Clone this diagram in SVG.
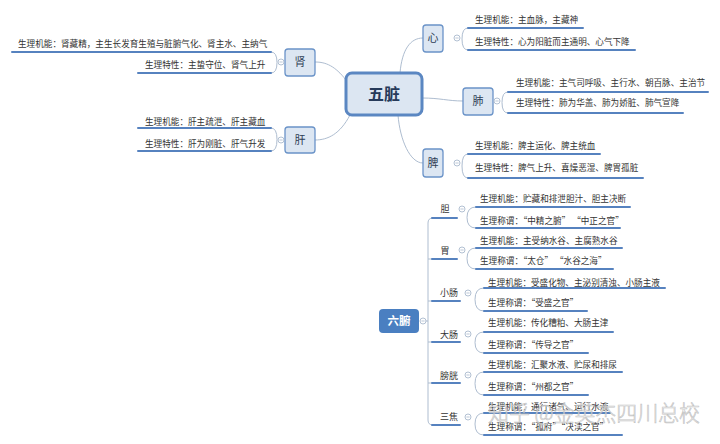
<svg xmlns="http://www.w3.org/2000/svg" width="720" height="444" viewBox="0 0 720 444">
<style>
.bg{fill:#ffffff}
.conn{fill:none;stroke:#aebdd0;stroke-width:1}
.ul{fill:none;stroke:#5682bf;stroke-width:2;stroke-linecap:round}
.box{fill:#dce6f2;stroke:#6a93c8;stroke-width:1.3}
.root{fill:#dce6f2;stroke:#5b87c2;stroke-width:3}
.col{fill:#ffffff;stroke:#a9b9cd;stroke-width:0.9}
.minus{stroke:#a9b9cd;stroke-width:0.8}
.leaf{font-family:"Noto Sans CJK SC","Noto Sans",sans-serif;font-size:8.6px;fill:#333333}
.lbl{font-family:"Noto Sans CJK SC","Noto Sans",sans-serif;font-size:11px;fill:#2f3e55;text-anchor:middle}
.sub{font-family:"Noto Sans CJK SC","Noto Sans",sans-serif;font-size:9px;fill:#333333;text-anchor:middle}
</style>
<defs>
  <g id="collapse">
    <circle class="col" cx="0" cy="0" r="3"/>
    <line class="minus" x1="-1.6" y1="0" x2="1.6" y2="0"/>
  </g>
</defs>
<rect class="bg" x="0" y="0" width="720" height="444"/>
<g id="connectors">
  <path class="conn" d="M400,73 C402,50 410,38 423,38"/>
  <path class="conn" d="M422,98 C440,98 448,101 463,101"/>
  <path class="conn" d="M398,115 C400,140 410,163 423,163"/>
  <path class="conn" d="M346,80 C335,66 326,62 315,62"/>
  <path class="conn" d="M350,115 C340,134 328,140 315,140"/>
  <path class="conn" d="M468,28 Q462,28 462,39 Q462,50 468,50"/>
  <path class="conn" d="M508,92 Q502,92 502,102.5 Q502,113 508,113"/>
  <path class="conn" d="M468,154 Q462,154 462,166 Q462,178 468,178"/>
  <path class="conn" d="M271,52 Q277,52 277,62.5 Q277,73 271,73"/>
  <path class="conn" d="M271,128 Q277,128 277,139.5 Q277,151 271,151"/>
  <path class="conn" d="M426,321 L428,321"/>
  <path class="conn" d="M433,218 Q428,218 428,223 L428,420 Q428,425 433,425"/>
  <path class="conn" d="M428,259 L432,259 M428,301 L432,301 M428,342 L432,342 M428,383 L432,383"/>
  <path class="conn" d="M476,207 Q467,207 467,217.5 Q467,228 476,228"/>
  <path class="conn" d="M476,248 Q467,248 467,258.5 Q467,269 476,269"/>
  <path class="conn" d="M484,288 Q475,288 475,299.5 Q475,311 484,311"/>
  <path class="conn" d="M484,332 Q475,332 475,342.5 Q475,353 484,353"/>
  <path class="conn" d="M484,372 Q475,372 475,383.5 Q475,395 484,395"/>
  <path class="conn" d="M484,413 Q475,413 475,424 Q475,435 484,435"/>
</g>
<g id="root-wuzang">
  <rect class="root" x="346" y="73" width="76" height="42" rx="6"/>
  <text x="384" y="100" font-family="'Noto Sans CJK SC','Noto Sans',sans-serif" font-size="16" font-weight="bold" fill="#263a5a" text-anchor="middle">五脏</text>
</g>
<g id="node-xin">
  <rect class="box" x="423" y="25" width="20" height="27" rx="3"/>
  <text class="lbl" x="433" y="42">心</text>
  <use href="#collapse" x="457" y="38"/>
  <path class="ul" d="M468,28 L583,28 M468,50 L635,50"/>
  <text class="leaf" x="475" y="23">生理机能：主血脉，主藏神</text>
  <text class="leaf" x="475" y="45">生理特性：心为阳脏而主通明、心气下降</text>
</g>
<g id="node-fei">
  <rect class="box" x="463" y="88" width="30" height="27" rx="3"/>
  <text class="lbl" x="478" y="105">肺</text>
  <use href="#collapse" x="497" y="101"/>
  <path class="ul" d="M508,92 L708,92 M508,113 L683,113"/>
  <text class="leaf" x="516" y="86">生理机能：主气司呼吸、主行水、朝百脉、主治节</text>
  <text class="leaf" x="516" y="106">生理特性：肺为华盖、肺为娇脏、肺气宣降</text>
</g>
<g id="node-pi">
  <rect class="box" x="423" y="149" width="20" height="28" rx="3"/>
  <text class="lbl" x="433" y="167">脾</text>
  <use href="#collapse" x="457" y="163"/>
  <path class="ul" d="M468,154 L600,154 M468,178 L643,178"/>
  <text class="leaf" x="475" y="149">生理机能：脾主运化、脾主统血</text>
  <text class="leaf" x="475" y="171">生理特性：脾气上升、喜燥恶湿、脾胃孤脏</text>
</g>
<g id="node-shen">
  <rect class="box" x="285" y="49" width="30" height="27" rx="3"/>
  <text class="lbl" x="300" y="66">肾</text>
  <use href="#collapse" x="281" y="62"/>
  <path class="ul" d="M12,52 L271,52 M138,73 L271,73"/>
  <text class="leaf" x="18" y="47">生理机能：肾藏精，主生长发育生殖与脏腑气化、肾主水、主纳气</text>
  <text class="leaf" x="145" y="68">生理特性：主蛰守位、肾气上升</text>
</g>
<g id="node-gan">
  <rect class="box" x="285" y="127" width="30" height="26" rx="3"/>
  <text class="lbl" x="300" y="144">肝</text>
  <use href="#collapse" x="281" y="140"/>
  <path class="ul" d="M138,128 L271,128 M138,151 L271,151"/>
  <text class="leaf" x="145" y="125">生理机能：肝主疏泄、肝主藏血</text>
  <text class="leaf" x="145" y="147">生理特性：肝为刚脏、肝气升发</text>
</g>
<g id="root-liufu">
  <rect x="379" y="309" width="40" height="24" rx="4" fill="#4a7fc1"/>
  <text x="399" y="325" font-family="'Noto Sans CJK SC','Noto Sans',sans-serif" font-size="11.5" font-weight="bold" fill="#ffffff" text-anchor="middle">六腑</text>
  <use href="#collapse" x="423" y="321"/>
</g>
<g id="node-dan">
  <text class="sub" x="445" y="212">胆</text>
  <path class="ul" d="M432,218 L457,218"/>
  <use href="#collapse" x="462" y="209"/>
  <path class="ul" d="M476,207 L630,207 M476,228 L620,228"/>
  <text class="leaf" x="480" y="202">生理机能：贮藏和排泄胆汁、胆主决断</text>
  <text class="leaf" x="480" y="224">生理称谓：“中精之腑” “中正之官”</text>
</g>
<g id="node-wei">
  <text class="sub" x="445" y="254">胃</text>
  <path class="ul" d="M432,259 L457,259"/>
  <use href="#collapse" x="462" y="250"/>
  <path class="ul" d="M476,248 L622,248 M476,269 L613,269"/>
  <text class="leaf" x="480" y="244">生理机能：主受纳水谷、主腐熟水谷</text>
  <text class="leaf" x="480" y="264">生理称谓：“太仓” “水谷之海”</text>
</g>
<g id="node-xiaochang">
  <text class="sub" x="449" y="296">小肠</text>
  <path class="ul" d="M432,301 L460,301"/>
  <use href="#collapse" x="468" y="293"/>
  <path class="ul" d="M484,288 L665,288 M484,311 L587,311"/>
  <text class="leaf" x="488" y="286">生理机能：受盛化物、主泌别清浊、小肠主液</text>
  <text class="leaf" x="488" y="306">生理称谓：“受盛之官”</text>
</g>
<g id="node-dachang">
  <text class="sub" x="449" y="338">大肠</text>
  <path class="ul" d="M432,342 L460,342"/>
  <use href="#collapse" x="468" y="334"/>
  <path class="ul" d="M484,332 L613,332 M484,353 L588,353"/>
  <text class="leaf" x="488" y="326">生理机能：传化糟粕、大肠主津</text>
  <text class="leaf" x="488" y="348">生理称谓：“传导之官”</text>
</g>
<g id="node-pangguang">
  <text class="sub" x="449" y="379">膀胱</text>
  <path class="ul" d="M432,383 L460,383"/>
  <use href="#collapse" x="468" y="375"/>
  <path class="ul" d="M484,372 L622,372 M484,395 L588,395"/>
  <text class="leaf" x="488" y="368">生理机能：汇聚水液、贮尿和排尿</text>
  <text class="leaf" x="488" y="390">生理称谓：“州都之官”</text>
</g>
<g id="node-sanjiao">
  <text class="sub" x="449" y="420">三焦</text>
  <path class="ul" d="M432,425 L460,425"/>
  <use href="#collapse" x="468" y="417"/>
  <path class="ul" d="M484,413 L610,413 M484,435 L622,435"/>
  <text class="leaf" x="488" y="410">生理机能：通行诸气、运行水液</text>
  <text class="leaf" x="488" y="430">生理称谓：“孤府”“决渎之官”</text>
</g>
<text x="488" y="421" textLength="212" lengthAdjust="spacingAndGlyphs" font-family="'Noto Sans CJK SC','Noto Sans',sans-serif" font-size="22" font-weight="300" fill="#ffffff" fill-opacity="0.6" stroke="#b4b4b4" stroke-width="0.7" stroke-opacity="0.8">知乎 @金英杰四川总校</text>
</svg>
